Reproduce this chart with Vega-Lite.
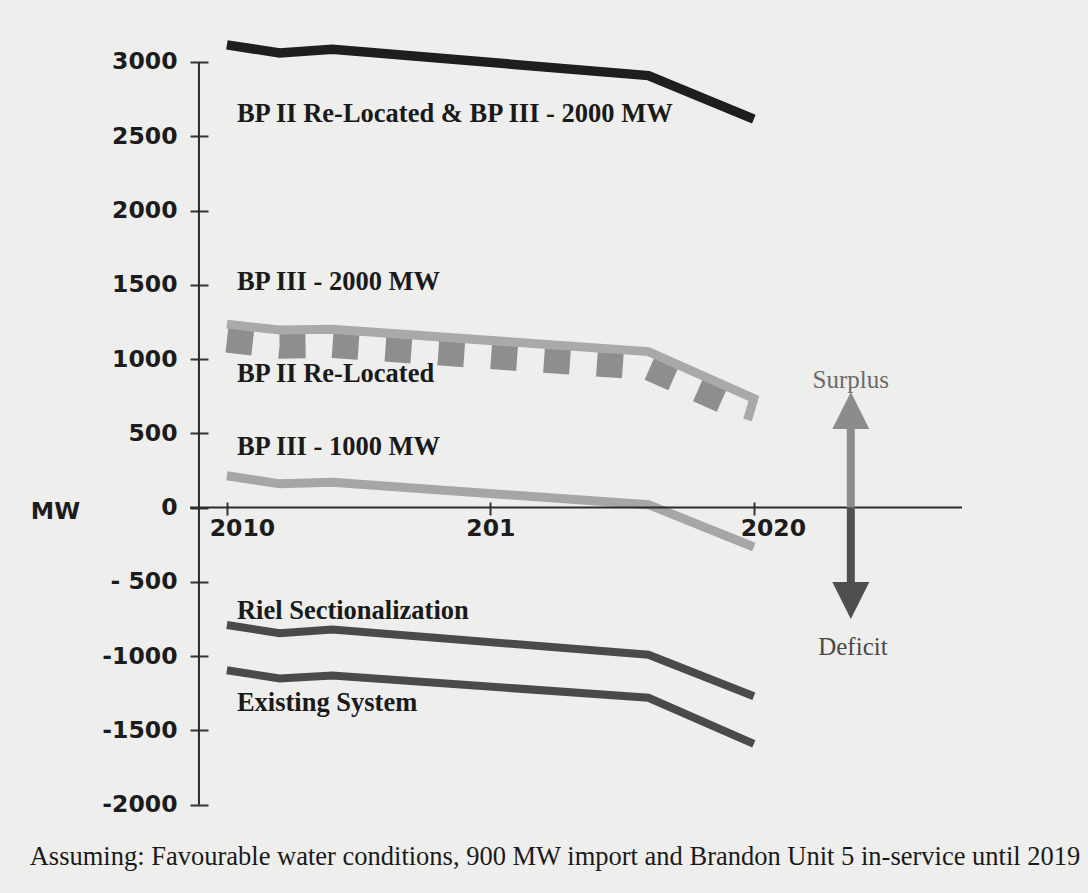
{
  "$schema": "https://vega.github.io/schema/vega-lite/v6.json",
  "autosize": {"type": "none"},
  "padding": {"left": 190, "top": 30, "right": 126, "bottom": 63},
  "width": 772,
  "height": 800,
  "background": "#eeeeec",
  "config": {"view": {"stroke": null}},
  "title": {
    "text": "Assuming: Favourable water conditions, 900 MW import and Brandon Unit 5 in-service until 2019",
    "orient": "bottom",
    "anchor": "middle",
    "frame": "group",
    "font": "Liberation Serif",
    "fontSize": 26.5,
    "fontWeight": "normal",
    "color": "#1a1a1a",
    "offset": 14,
    "dx": -21
  },
  "datasets": {
    "lines": [
      {"series": "BP II Re-Located & BP III - 2000 MW", "o": 1, "x": 2010, "y": 3115},
      {"series": "BP II Re-Located & BP III - 2000 MW", "o": 2, "x": 2011, "y": 3060},
      {"series": "BP II Re-Located & BP III - 2000 MW", "o": 3, "x": 2012, "y": 3085},
      {"series": "BP II Re-Located & BP III - 2000 MW", "o": 4, "x": 2018, "y": 2908},
      {"series": "BP II Re-Located & BP III - 2000 MW", "o": 5, "x": 2020, "y": 2615},
      {"series": "BP III - 2000 MW", "o": 1, "x": 2010, "y": 1235},
      {"series": "BP III - 2000 MW", "o": 2, "x": 2011, "y": 1195},
      {"series": "BP III - 2000 MW", "o": 3, "x": 2012, "y": 1200},
      {"series": "BP III - 2000 MW", "o": 4, "x": 2018, "y": 1050},
      {"series": "BP III - 2000 MW", "o": 5, "x": 2020, "y": 735},
      {"series": "BP III - 2000 MW", "o": 6, "x": 2019.88, "y": 590},
      {"series": "BP II Re-Located", "o": 1, "x": 2010, "y": 1127},
      {"series": "BP II Re-Located", "o": 2, "x": 2011, "y": 1087},
      {"series": "BP II Re-Located", "o": 3, "x": 2012, "y": 1092},
      {"series": "BP II Re-Located", "o": 4, "x": 2018, "y": 942},
      {"series": "BP II Re-Located", "o": 5, "x": 2019.65, "y": 682},
      {"series": "BP III - 1000 MW", "o": 1, "x": 2010, "y": 215},
      {"series": "BP III - 1000 MW", "o": 2, "x": 2011, "y": 160},
      {"series": "BP III - 1000 MW", "o": 3, "x": 2012, "y": 170},
      {"series": "BP III - 1000 MW", "o": 4, "x": 2018, "y": 20},
      {"series": "BP III - 1000 MW", "o": 5, "x": 2020, "y": -265},
      {"series": "Riel Sectionalization", "o": 1, "x": 2010, "y": -790},
      {"series": "Riel Sectionalization", "o": 2, "x": 2011, "y": -845},
      {"series": "Riel Sectionalization", "o": 3, "x": 2012, "y": -820},
      {"series": "Riel Sectionalization", "o": 4, "x": 2018, "y": -990},
      {"series": "Riel Sectionalization", "o": 5, "x": 2020, "y": -1270},
      {"series": "Existing System", "o": 1, "x": 2010, "y": -1095},
      {"series": "Existing System", "o": 2, "x": 2011, "y": -1150},
      {"series": "Existing System", "o": 3, "x": 2012, "y": -1130},
      {"series": "Existing System", "o": 4, "x": 2018, "y": -1280},
      {"series": "Existing System", "o": 5, "x": 2020, "y": -1590}
    ],
    "labels": [
      {"label": "BP II Re-Located & BP III - 2000 MW", "x": 2010.19, "y": 2650},
      {"label": "BP III - 2000 MW", "x": 2010.19, "y": 1521},
      {"label": "BP II Re-Located", "x": 2010.19, "y": 898},
      {"label": "BP III - 1000 MW", "x": 2010.19, "y": 411},
      {"label": "Riel Sectionalization", "x": 2010.19, "y": -693},
      {"label": "Existing System", "x": 2010.19, "y": -1312}
    ],
    "notes": [
      {"label": "Surplus", "x": 2021.84, "y": 861},
      {"label": "Deficit", "x": 2021.88, "y": -935}
    ],
    "one": [{"k": 1}]
  },
  "layer": [
    {
      "data": {"name": "lines"},
      "transform": [{"filter": "datum.series == 'BP II Re-Located'"}],
      "mark": {"type": "line", "color": "#8e8e8e", "strokeWidth": 25, "strokeDash": [26, 27], "strokeCap": "butt", "strokeJoin": "miter"},
      "encoding": {
        "x": {
          "field": "x", "type": "quantitative",
          "scale": {"domain": [2009.3, 2023.95], "nice": false, "zero": false},
          "axis": {
            "title": null,
            "values": [2010, 2015, 2020],
            "labelExpr": "datum.value == 2015 ? '201' : '' + datum.value",
            "labelFont": "DejaVu Sans", "labelFontWeight": "bold", "labelFontSize": 23.5, "labelColor": "#1c1c1c",
            "labelPadding": 1,
            "labelOffset": {"condition": [{"test": "datum.value == 2010", "value": 15}, {"test": "datum.value == 2020", "value": 19}], "value": 0},
            "tickSize": 13, "tickWidth": 2, "tickColor": "#333333",
            "domain": false, "grid": false, "offset": -328
          }
        },
        "y": {
          "field": "y", "type": "quantitative",
          "scale": {"domain": [-2170, 3215], "nice": false, "zero": false},
          "axis": {
            "title": "MW", "titleAngle": 0, "titleX": -153, "titleY": 481,
            "titleAlign": "center", "titleBaseline": "middle",
            "titleFont": "DejaVu Sans", "titleFontWeight": "bold", "titleFontSize": 23.5, "titleColor": "#1c1c1c",
            "values": [-2000, -1500, -1000, -500, 0, 500, 1000, 1500, 2000, 2500, 3000],
            "labelExpr": "datum.value == -500 ? '- 500' : '' + datum.value",
            "labelFont": "DejaVu Sans", "labelFontWeight": "bold", "labelFontSize": 23.5, "labelColor": "#1c1c1c",
            "labelPadding": 13, "labelOverlap": false,
            "tickSize": 18, "tickWidth": 2, "tickColor": "#333333",
            "domain": false, "grid": false, "offset": -18
          }
        },
        "order": {"field": "o"}
      }
    },
    {
      "data": {"name": "lines"},
      "transform": [{"filter": "datum.series == 'BP III - 2000 MW'"}],
      "mark": {"type": "line", "color": "#a9a9a9", "strokeWidth": 9, "strokeCap": "butt", "strokeJoin": "miter"},
      "encoding": {
        "x": {"field": "x", "type": "quantitative"},
        "y": {"field": "y", "type": "quantitative"},
        "order": {"field": "o"}
      }
    },
    {
      "data": {"name": "lines"},
      "transform": [{"filter": "datum.series == 'BP III - 1000 MW'"}],
      "mark": {"type": "line", "color": "#a6a6a6", "strokeWidth": 9, "strokeCap": "butt", "strokeJoin": "miter"},
      "encoding": {
        "x": {"field": "x", "type": "quantitative"},
        "y": {"field": "y", "type": "quantitative"},
        "order": {"field": "o"}
      }
    },
    {
      "data": {"name": "lines"},
      "transform": [{"filter": "datum.series == 'Riel Sectionalization' || datum.series == 'Existing System'"}],
      "mark": {"type": "line", "color": "#4a4a4a", "strokeWidth": 8, "strokeCap": "butt", "strokeJoin": "miter"},
      "encoding": {
        "x": {"field": "x", "type": "quantitative"},
        "y": {"field": "y", "type": "quantitative"},
        "detail": {"field": "series"},
        "order": {"field": "o"}
      }
    },
    {
      "data": {"name": "lines"},
      "transform": [{"filter": "datum.series == 'BP II Re-Located & BP III - 2000 MW'"}],
      "mark": {"type": "line", "color": "#1e1e1e", "strokeWidth": 9.5, "strokeCap": "butt", "strokeJoin": "miter"},
      "encoding": {
        "x": {"field": "x", "type": "quantitative"},
        "y": {"field": "y", "type": "quantitative"},
        "order": {"field": "o"}
      }
    },
    {
      "data": {"name": "one"},
      "mark": {"type": "rule", "color": "#2a2a2a", "strokeWidth": 2},
      "encoding": {
        "x": {"datum": 2009.47, "type": "quantitative"},
        "y": {"datum": 3000, "type": "quantitative"},
        "y2": {"datum": -2000}
      }
    },
    {
      "data": {"name": "one"},
      "mark": {"type": "rule", "color": "#2a2a2a", "strokeWidth": 2},
      "encoding": {
        "x": {"datum": 2009.3, "type": "quantitative"},
        "x2": {"datum": 2023.95},
        "y": {"datum": 0, "type": "quantitative"}
      }
    },
    {
      "data": {"name": "one"},
      "mark": {"type": "rule", "color": "#8c8c8c", "strokeWidth": 8},
      "encoding": {
        "x": {"datum": 2021.84, "type": "quantitative"},
        "y": {"datum": 0, "type": "quantitative"},
        "y2": {"datum": 560}
      }
    },
    {
      "data": {"name": "one"},
      "mark": {"type": "rule", "color": "#4f4f4f", "strokeWidth": 8},
      "encoding": {
        "x": {"datum": 2021.84, "type": "quantitative"},
        "y": {"datum": 0, "type": "quantitative"},
        "y2": {"datum": -540}
      }
    },
    {
      "data": {"name": "one"},
      "mark": {"type": "point", "shape": "M0,-1L1,1L-1,1Z", "size": 1369, "filled": true, "opacity": 1, "color": "#8c8c8c", "strokeWidth": 0},
      "encoding": {
        "x": {"datum": 2021.84, "type": "quantitative"},
        "y": {"datum": 653, "type": "quantitative"}
      }
    },
    {
      "data": {"name": "one"},
      "mark": {"type": "point", "shape": "M0,1L1,-1L-1,-1Z", "size": 1369, "filled": true, "opacity": 1, "color": "#4f4f4f", "strokeWidth": 0},
      "encoding": {
        "x": {"datum": 2021.84, "type": "quantitative"},
        "y": {"datum": -626, "type": "quantitative"}
      }
    },
    {
      "data": {"name": "labels"},
      "mark": {"type": "text", "align": "left", "baseline": "middle", "font": "Liberation Serif", "fontWeight": "bold", "fontSize": 26.5, "color": "#1a1a1a"},
      "encoding": {
        "x": {"field": "x", "type": "quantitative"},
        "y": {"field": "y", "type": "quantitative"},
        "text": {"field": "label"}
      }
    },
    {
      "data": {"name": "notes"},
      "mark": {"type": "text", "align": "center", "baseline": "middle", "font": "Liberation Serif", "fontSize": 25},
      "encoding": {
        "x": {"field": "x", "type": "quantitative"},
        "y": {"field": "y", "type": "quantitative"},
        "text": {"field": "label"},
        "color": {"condition": {"test": "datum.label == 'Surplus'", "value": "#6b6b6b"}, "value": "#4a4a4a"}
      }
    }
  ]
}
